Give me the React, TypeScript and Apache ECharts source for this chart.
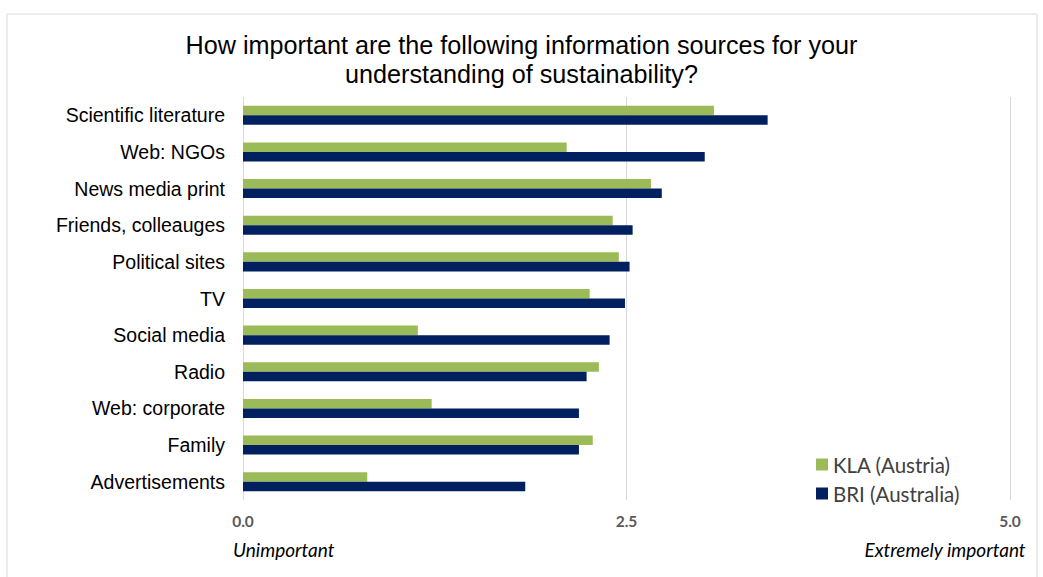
import React, { useEffect, useRef } from "react";
import * as echarts from "echarts";

const categories = [
  "Scientific literature",
  "Web: NGOs",
  "News media print",
  "Friends, colleauges",
  "Political sites",
  "TV",
  "Social media",
  "Radio",
  "Web: corporate",
  "Family",
  "Advertisements",
];
const klaValues = [3.07, 2.11, 2.66, 2.41, 2.45, 2.26, 1.14, 2.32, 1.23, 2.28, 0.81];
const briValues = [3.42, 3.01, 2.73, 2.54, 2.52, 2.49, 2.39, 2.24, 2.19, 2.19, 1.84];
const seriesNames = ["KLA (Austria)", "BRI (Australia)"];
const titleText = "How important are the following information sources for your\nunderstanding of sustainability?";
const lowLabel = "Unimportant";
const highLabel = "Extremely important";

export default function App() {
  const ref = useRef<HTMLDivElement>(null);
  useEffect(() => {
    if (!ref.current) return;
    const chart = echarts.init(ref.current, null, { renderer: "svg" });
    chart.setOption({
      animation: false,
      backgroundColor: "#ffffff",
      title: {
        text: titleText,
        left: "center",
        top: 25,
        textStyle: {
          fontFamily: "Liberation Sans, Arial",
          fontSize: 25.2,
          fontWeight: "normal",
          color: "#000000",
          lineHeight: 29,
        },
      },
      legend: {
        orient: "vertical",
        left: 811,
        top: 449,
        itemWidth: 12,
        itemHeight: 12,
        itemGap: 8,
        icon: "rect",
        textStyle: { fontFamily: "Lato, Open Sans", fontSize: 20.5, color: "#404040" },
        data: seriesNames,
      },
      grid: { left: 243, right: 33, top: 97, bottom: 77, containLabel: false },
      xAxis: {
        type: "value",
        min: 0,
        max: 5,
        interval: 2.5,
        axisLine: { show: false },
        axisTick: { show: false },
        splitLine: { show: true, lineStyle: { color: "#d9d9d9", width: 1 } },
        axisLabel: {
          formatter: (v: number) => v.toFixed(1),
          color: "#595959",
          fontWeight: "bold",
          fontSize: 15.5,
          fontFamily: "Lato, Open Sans",
          margin: 13,
        },
      },
      yAxis: {
        type: "category",
        data: categories,
        inverse: true,
        axisLine: { show: false },
        axisTick: { show: false },
        axisLabel: {
          color: "#000000",
          fontSize: 19.5,
          fontFamily: "Liberation Sans, Arial",
          margin: 18,
        },
      },
      series: [
        {
          name: seriesNames[0],
          type: "bar",
          data: klaValues,
          itemStyle: { color: "#9bbb59" },
          barGap: "0%",
          barCategoryGap: "48%",
        },
        {
          name: seriesNames[1],
          type: "bar",
          data: briValues,
          itemStyle: { color: "#002060" },
          barGap: "0%",
          barCategoryGap: "48%",
        },
      ],
      graphic: [
        {
          type: "rect",
          shape: { x: 7, y: 14, width: 1030, height: 600 },
          style: { fill: "none", stroke: "#d9d9d9", lineWidth: 1 },
          silent: true,
        },
        {
          type: "text",
          left: 233,
          top: 540,
          style: {
            text: lowLabel,
            fontFamily: "Lato, Open Sans",
            fontStyle: "italic",
            fontSize: 19,
            fill: "#000000",
          },
        },
        {
          type: "text",
          right: 17,
          top: 540,
          style: {
            text: highLabel,
            fontFamily: "Lato, Open Sans",
            fontStyle: "italic",
            fontSize: 19,
            fill: "#000000",
          },
        },
      ],
    });
    return () => chart.dispose();
  }, []);
  return (
    <div
      ref={ref}
      style={{ position: "fixed", left: 0, top: 0, width: 1043, height: 577 }}
    />
  );
}
